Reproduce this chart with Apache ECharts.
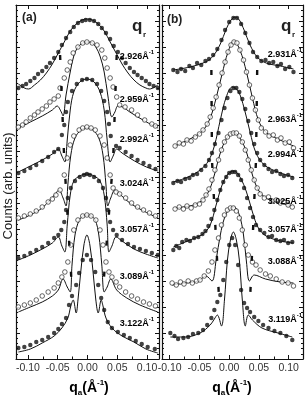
<!DOCTYPE html>
<html><head><meta charset="utf-8">
<script src="https://cdn.jsdelivr.net/npm/echarts@6/dist/echarts.min.js"></script>
<style>html,body{margin:0;padding:0;background:#fff}#c{width:305px;height:397px}</style>
</head><body><div id="c"></div>
<script>
// ---------- data (x in Å^-1, y in arb. units of log counts with offsets) ----------
const xTicks = [-0.10, -0.05, 0.00, 0.05, 0.10];
const xMinorTicks = [-0.075, -0.025, 0.025, 0.075];
const labelsA = ['2.926', '2.959', '2.992', '3.024', '3.057', '3.089', '3.122'];
const labelsB = ['2.931', '2.963', '2.994', '3.025', '3.057', '3.088', '3.119'];

// panel (a)
const a1Dots = [[-0.116,271],[-0.109,273],[-0.103,275],[-0.096,278],[-0.089,281],[-0.083,285],[-0.076,288],[-0.069,292],[-0.063,296],[-0.056,301],[-0.049,307],[-0.043,314],[-0.036,321],[-0.029,327],[-0.023,332],[-0.016,336],[-0.009,338],[-0.003,339],[0.004,339],[0.011,338],[0.018,335],[0.024,331],[0.031,326],[0.038,320],[0.044,313],[0.051,307],[0.058,301],[0.064,296],[0.071,291],[0.078,287],[0.084,284],[0.091,281],[0.098,278],[0.104,275],[0.111,273],[0.118,271]];
const a1Fit = [[-0.116,275],[-0.106,271],[-0.099,270],[-0.089,274],[-0.079,279],[-0.069,286],[-0.059,295],[-0.049,306],[-0.039,317],[-0.029,328],[-0.019,335],[-0.009,339],[-0.001,340],[0.008,339],[0.018,335],[0.028,328],[0.038,317],[0.048,306],[0.058,295],[0.068,286],[0.078,279],[0.088,274],[0.098,271],[0.104,270],[0.118,274]];
const a2Dots = [[-0.116,232],[-0.109,234],[-0.103,237],[-0.096,241],[-0.089,244],[-0.083,247],[-0.076,250],[-0.069,253],[-0.063,257],[-0.056,260],[-0.049,263],[-0.046,271],[-0.039,281],[-0.034,289],[-0.029,297],[-0.024,306],[-0.016,312],[-0.008,316],[-0.001,317],[0.008,316],[0.016,314],[0.024,309],[0.029,301],[0.033,291],[0.038,281],[0.043,272],[0.049,262],[0.054,254],[0.063,252],[0.074,249],[0.084,244],[0.096,239],[0.108,235],[0.114,233]];
const a2Fit = [[-0.116,231],[-0.096,237],[-0.076,243],[-0.059,249],[-0.051,253],[-0.044,247],[-0.041,243],[-0.036,264],[-0.029,287],[-0.023,303],[-0.016,312],[-0.008,316],[-0.001,317],[0.008,316],[0.014,312],[0.021,303],[0.028,287],[0.034,264],[0.041,242],[0.046,247],[0.051,253],[0.059,252],[0.071,247],[0.096,238],[0.118,231]];
const a3Dots = [[-0.116,186],[-0.106,188],[-0.096,191],[-0.086,194],[-0.076,198],[-0.066,202],[-0.056,207],[-0.049,210],[-0.043,224],[-0.039,234],[-0.036,247],[-0.033,257],[-0.026,268],[-0.018,275],[-0.009,279],[-0.001,280],[0.008,279],[0.016,275],[0.023,268],[0.028,258],[0.033,247],[0.036,235],[0.039,223],[0.048,213],[0.054,211],[0.064,207],[0.074,203],[0.084,199],[0.094,196],[0.104,193],[0.114,190]];
const a3Fit = [[-0.116,187],[-0.096,193],[-0.076,199],[-0.059,205],[-0.049,210],[-0.043,203],[-0.038,197],[-0.034,219],[-0.029,249],[-0.023,267],[-0.013,277],[-0.001,280],[0.011,277],[0.021,267],[0.028,249],[0.033,219],[0.038,197],[0.043,203],[0.049,210],[0.058,206],[0.079,198],[0.099,192],[0.118,188]];
const a4Dots = [[-0.116,141],[-0.106,143],[-0.096,145],[-0.086,148],[-0.076,152],[-0.066,157],[-0.059,160],[-0.053,164],[-0.046,169],[-0.039,184],[-0.034,201],[-0.029,214],[-0.023,223],[-0.014,229],[-0.008,231],[-0.001,232],[0.006,231],[0.013,229],[0.021,223],[0.028,214],[0.033,201],[0.038,184],[0.043,171],[0.048,167],[0.054,165],[0.064,161],[0.074,156],[0.084,152],[0.094,149],[0.104,146],[0.114,143]];
const a4Fit = [[-0.116,139],[-0.096,144],[-0.076,151],[-0.063,159],[-0.054,165],[-0.048,169],[-0.041,161],[-0.036,153],[-0.033,174],[-0.028,204],[-0.021,221],[-0.011,229],[-0.001,231],[0.009,229],[0.019,221],[0.026,204],[0.031,174],[0.034,153],[0.039,161],[0.046,169],[0.054,165],[0.071,156],[0.091,149],[0.118,141]];
const a5Dots = [[-0.116,101],[-0.106,103],[-0.096,106],[-0.086,109],[-0.076,112],[-0.066,116],[-0.056,121],[-0.049,124],[-0.044,129],[-0.039,137],[-0.036,149],[-0.033,161],[-0.028,171],[-0.021,178],[-0.013,182],[-0.006,184],[-0.001,185],[0.004,184],[0.011,182],[0.019,178],[0.026,171],[0.031,161],[0.034,149],[0.038,137],[0.043,129],[0.049,124],[0.058,119],[0.068,115],[0.078,112],[0.088,110],[0.098,108],[0.108,106],[0.118,104]];
const a5Fit = [[-0.116,99],[-0.096,104],[-0.076,110],[-0.059,116],[-0.049,122],[-0.043,113],[-0.038,107],[-0.034,134],[-0.029,164],[-0.023,178],[-0.013,183],[-0.001,185],[0.011,183],[0.021,178],[0.028,164],[0.033,134],[0.036,107],[0.041,113],[0.048,122],[0.058,118],[0.078,110],[0.098,105],[0.118,101]];
const a6Dots = [[-0.116,52],[-0.106,54],[-0.096,56],[-0.086,59],[-0.076,63],[-0.066,67],[-0.056,71],[-0.049,76],[-0.043,82],[-0.038,87],[-0.033,97],[-0.028,114],[-0.023,129],[-0.016,139],[-0.008,143],[-0.001,144],[0.006,143],[0.014,139],[0.021,129],[0.026,114],[0.031,97],[0.036,87],[0.041,82],[0.048,77],[0.054,72],[0.064,67],[0.074,63],[0.084,60],[0.094,57],[0.104,55],[0.114,53]];
const a6Fit = [[-0.116,47],[-0.096,52],[-0.076,57],[-0.059,63],[-0.049,69],[-0.041,80],[-0.034,72],[-0.029,67],[-0.026,94],[-0.021,124],[-0.014,139],[-0.008,143],[-0.001,144],[0.006,143],[0.013,139],[0.019,124],[0.024,94],[0.028,67],[0.033,72],[0.039,80],[0.049,69],[0.066,61],[0.088,54],[0.118,47]];
const a7Dots = [[-0.116,11],[-0.106,12],[-0.096,14],[-0.086,17],[-0.076,19],[-0.066,22],[-0.056,26],[-0.049,30],[-0.043,35],[-0.036,41],[-0.031,54],[-0.026,63],[-0.019,74],[-0.014,86],[-0.008,99],[-0.001,104],[0.006,99],[0.013,87],[0.018,74],[0.023,61],[0.028,49],[0.034,37],[0.041,31],[0.051,27],[0.061,24],[0.071,21],[0.081,18],[0.091,15],[0.101,12],[0.113,10]];
const a7Fit = [[-0.116,7],[-0.096,10],[-0.076,16],[-0.056,23],[-0.043,31],[-0.033,41],[-0.028,53],[-0.024,59],[-0.019,46],[-0.016,59],[-0.011,89],[-0.006,114],[-0.001,124],[0.004,114],[0.009,89],[0.014,59],[0.018,46],[0.023,59],[0.026,53],[0.031,41],[0.041,31],[0.058,23],[0.078,17],[0.098,10],[0.118,6]];
const aDashL = [[-0.046,304],[-0.039,199],[-0.026,69]];
const aDashR = [[0.049,304],[0.043,199],[0.026,69]];

// panel (b)
const b1Dots = [[-0.094,289],[-0.087,287],[-0.081,290],[-0.074,288],[-0.067,293],[-0.061,291],[-0.054,296],[-0.047,294],[-0.040,298],[-0.034,300],[-0.027,304],[-0.020,310],[-0.013,319],[-0.007,329],[0.000,337],[0.007,341],[0.013,341],[0.020,335],[0.027,326],[0.034,316],[0.040,307],[0.047,302],[0.054,298],[0.061,299],[0.067,296],[0.074,297],[0.081,293],[0.087,295],[0.094,290],[0.101,292],[0.108,287]];
const b1Fit = [[-0.094,289],[-0.066,292],[-0.040,297],[-0.027,303],[-0.015,315],[-0.005,330],[0.003,339],[0.010,342],[0.017,339],[0.025,329],[0.035,314],[0.047,302],[0.062,296],[0.086,293],[0.108,290]];
const b2Dots = [[-0.091,213],[-0.084,216],[-0.077,215],[-0.071,219],[-0.064,218],[-0.057,222],[-0.050,225],[-0.044,229],[-0.037,235],[-0.032,242],[-0.027,251],[-0.022,262],[-0.017,274],[-0.012,286],[-0.007,297],[-0.002,307],[0.003,314],[0.008,317],[0.013,316],[0.018,309],[0.024,299],[0.029,287],[0.034,274],[0.039,261],[0.044,249],[0.049,239],[0.054,231],[0.061,227],[0.067,223],[0.074,224],[0.081,219],[0.087,221],[0.094,216],[0.101,217],[0.108,211]];
const b2Fit = [[-0.091,213],[-0.066,220],[-0.045,228],[-0.032,241],[-0.022,261],[-0.012,285],[-0.002,307],[0.008,318],[0.018,309],[0.029,287],[0.039,261],[0.049,239],[0.061,227],[0.082,220],[0.108,213]];
const b3Dots = [[-0.094,176],[-0.087,178],[-0.081,177],[-0.074,180],[-0.067,181],[-0.061,184],[-0.054,185],[-0.047,189],[-0.040,193],[-0.034,199],[-0.029,206],[-0.024,215],[-0.018,226],[-0.013,239],[-0.008,251],[-0.003,261],[0.002,268],[0.007,271],[0.012,271],[0.017,267],[0.022,260],[0.027,250],[0.032,238],[0.037,226],[0.042,215],[0.047,206],[0.052,199],[0.059,194],[0.066,190],[0.072,187],[0.079,188],[0.086,185],[0.092,183],[0.099,184],[0.106,181]];
const b3Fit = [[-0.094,177],[-0.069,182],[-0.049,189],[-0.035,198],[-0.025,213],[-0.015,239],[-0.005,262],[0.005,272],[0.015,268],[0.025,251],[0.035,227],[0.045,206],[0.059,194],[0.082,187],[0.108,182]];
const b4Dots = [[-0.091,150],[-0.084,152],[-0.077,150],[-0.071,153],[-0.064,151],[-0.057,154],[-0.050,155],[-0.044,159],[-0.039,164],[-0.034,170],[-0.029,179],[-0.024,189],[-0.018,199],[-0.013,209],[-0.008,217],[-0.003,222],[0.002,225],[0.007,226],[0.012,226],[0.017,223],[0.022,217],[0.027,209],[0.032,199],[0.037,189],[0.042,179],[0.047,171],[0.052,165],[0.059,161],[0.066,162],[0.072,158],[0.079,159],[0.086,156],[0.092,157],[0.099,154],[0.106,152]];
const b4Fit = [[-0.091,151],[-0.066,153],[-0.049,157],[-0.035,167],[-0.025,184],[-0.015,206],[-0.005,220],[0.007,227],[0.018,221],[0.029,207],[0.039,184],[0.049,169],[0.062,161],[0.086,156],[0.108,153]];
const b5Dots = [[-0.094,109],[-0.089,113],[-0.084,111],[-0.079,117],[-0.072,119],[-0.066,118],[-0.059,121],[-0.052,122],[-0.045,125],[-0.040,128],[-0.035,133],[-0.030,140],[-0.025,149],[-0.020,159],[-0.015,169],[-0.010,177],[-0.005,182],[0.000,186],[0.005,187],[0.010,187],[0.015,184],[0.020,179],[0.025,171],[0.030,161],[0.035,151],[0.040,142],[0.045,134],[0.052,129],[0.059,126],[0.066,122],[0.072,123],[0.079,119],[0.086,118],[0.092,119],[0.099,116],[0.106,117]];
const b5Fit = [[-0.094,112],[-0.066,119],[-0.044,125],[-0.032,134],[-0.022,154],[-0.012,174],[-0.002,185],[0.008,188],[0.018,182],[0.029,167],[0.039,147],[0.049,131],[0.062,123],[0.086,118],[0.108,116]];
const b6Dots = [[-0.096,76],[-0.089,74],[-0.082,77],[-0.076,75],[-0.069,78],[-0.062,76],[-0.055,78],[-0.049,79],[-0.042,83],[-0.035,88],[-0.029,97],[-0.024,109],[-0.018,121],[-0.013,134],[-0.008,144],[-0.003,149],[0.002,151],[0.007,151],[0.012,148],[0.017,141],[0.022,129],[0.027,114],[0.032,104],[0.039,97],[0.045,94],[0.052,89],[0.061,85],[0.069,83],[0.079,80],[0.089,77],[0.099,76],[0.108,73]];
const b6Fit = [[-0.096,74],[-0.074,76],[-0.052,78],[-0.039,83],[-0.029,78],[-0.022,99],[-0.015,124],[-0.008,141],[0.000,150],[0.008,152],[0.017,144],[0.024,124],[0.029,97],[0.034,78],[0.042,84],[0.061,80],[0.086,77],[0.108,76]];
const b7Dots = [[-0.099,26],[-0.092,23],[-0.086,20],[-0.077,21],[-0.069,22],[-0.061,25],[-0.052,26],[-0.044,29],[-0.037,34],[-0.030,41],[-0.025,49],[-0.020,57],[-0.015,64],[-0.010,79],[-0.005,97],[0.000,114],[0.005,121],[0.010,114],[0.015,94],[0.020,69],[0.025,56],[0.030,51],[0.035,47],[0.042,42],[0.049,38],[0.057,34],[0.066,31],[0.076,28],[0.086,26],[0.096,23],[0.106,19]];
const b7Fit = [[-0.099,22],[-0.074,22],[-0.049,26],[-0.032,34],[-0.025,40],[-0.020,44],[-0.013,33],[-0.008,59],[-0.003,99],[0.002,119],[0.007,127],[0.012,119],[0.017,99],[0.022,59],[0.027,33],[0.032,44],[0.039,39],[0.055,31],[0.082,26],[0.106,22]];
const bDashL = [[-0.030,289],[-0.029,199],[-0.017,59]];
const bDashR = [[0.047,289],[0.045,199],[0.035,59]];

// ---------- chart ----------
const INK = '#111';
const FONT = 'Liberation Sans, Arial, sans-serif';
const chart = echarts.init(document.getElementById('c'), null, {renderer: 'canvas'});

const dotsA = [a1Dots, a2Dots, a3Dots, a4Dots, a5Dots, a6Dots, a7Dots];
const fitsA = [a1Fit, a2Fit, a3Fit, a4Fit, a5Fit, a6Fit, a7Fit];
const dotsB = [b1Dots, b2Dots, b3Dots, b4Dots, b5Dots, b6Dots, b7Dots];
const fitsB = [b1Fit, b2Fit, b3Fit, b4Fit, b5Fit, b6Fit, b7Fit];

function xAx(grid, pos, min, max, withLabels) {
  return {
    type: 'value', gridIndex: grid, position: pos, min: min, max: max,
    axisLine: {show: true, onZero: false, lineStyle: {color: INK, width: 1.2}},
    axisTick: {show: true, inside: true, length: 4, customValues: xTicks, lineStyle: {color: INK}},
    axisLabel: withLabels ? {show: true, customValues: xTicks, formatter: v => v.toFixed(2),
      fontSize: 10.5, color: '#333', fontFamily: FONT, margin: 4} : {show: false},
    splitLine: {show: false}
  };
}
function xMinor(grid, min, max) {
  return {
    type: 'value', gridIndex: grid, position: 'bottom', min: min, max: max,
    axisLine: {show: false},
    axisTick: {show: true, inside: true, length: 2.5, customValues: xMinorTicks, lineStyle: {color: INK}},
    axisLabel: {show: false}, splitLine: {show: false}
  };
}
function yAx(grid, pos) {
  return {
    type: 'value', gridIndex: grid, position: pos, min: 0, max: 354, interval: 26,
    axisLine: {show: true, onZero: false, lineStyle: {color: INK, width: 1.2}},
    axisTick: {show: true, inside: true, length: 4, lineStyle: {color: INK}},
    minorTick: {show: true, splitNumber: 5, length: 2, lineStyle: {color: INK}},
    axisLabel: {show: false}, splitLine: {show: false}
  };
}

const series = [];
function addPanel(dots, fits, xi, yi) {
  dots.forEach((d, i) => {
    const open = i % 2 === 1;
    series.push({
      type: 'line', data: fits[i], xAxisIndex: xi, yAxisIndex: yi,
      showSymbol: false, smooth: 0.35, lineStyle: {color: INK, width: 1}, z: 2, silent: true
    });
    series.push({
      type: 'scatter', data: d, xAxisIndex: xi, yAxisIndex: yi,
      symbol: 'circle', symbolSize: open ? 4.6 : 4.4,
      itemStyle: open ? {color: '#fff', borderColor: INK, borderWidth: 0.8} : {color: INK},
      z: 3, silent: true
    });
  });
}
addPanel(dotsA, fitsA, 0, 0);
addPanel(dotsB, fitsB, 2, 2);
[[aDashL, 0, 0], [aDashR, 0, 0], [bDashL, 2, 2], [bDashR, 2, 2]].forEach(([d, xi, yi]) => {
  series.push({type: 'line', data: d, xAxisIndex: xi, yAxisIndex: yi, showSymbol: false,
    lineStyle: {color: INK, width: 2.4, type: [5, 26]}, z: 4, silent: true});
});

// curve labels
const labelTopsA = [49, 92, 132, 176, 222, 269, 316];
const labelTopsB = [47, 112, 147, 194, 222, 254, 312];
const rich = {
  n: {fontSize: 9, fontWeight: 'bold', fontFamily: FONT, color: '#222', lineHeight: 12, verticalAlign: 'bottom'},
  p: {fontSize: 6, fontWeight: 'bold', fontFamily: FONT, color: '#222', lineHeight: 12, verticalAlign: 'top'}
};
const graphic = [];
labelsA.forEach((t, i) => graphic.push({type: 'text', right: 305 - 154, top: labelTopsA[i],
  style: {text: '{n|' + t + 'Å}{p|-1}', rich: rich}, z: 10}));
labelsB.forEach((t, i) => graphic.push({type: 'text', right: 305 - 302, top: labelTopsB[i],
  style: {text: '{n|' + t + 'Å}{p|-1}', rich: rich}, z: 10}));
// panel tags and q_r
[['(a)', 22, 12], ['(b)', 167, 14]].forEach(([t, l, tp]) => graphic.push({type: 'text', left: l, top: tp,
  style: {text: t, fontSize: 12, fontWeight: 'bold', fontFamily: FONT, fill: '#222'}, z: 10}));
[[132, 18], [281, 18]].forEach(([l, tp]) => {
  graphic.push({type: 'text', left: l, top: tp, style: {text: 'q', fontSize: 17, fontWeight: 'bold', fontFamily: FONT, fill: '#222'}, z: 10});
  graphic.push({type: 'text', left: l + 11, top: tp + 13, style: {text: 'r', fontSize: 8, fontWeight: 'bold', fontFamily: FONT, fill: '#222'}, z: 10});
});
// axis titles
const xr = {
  q: {fontSize: 14, fontWeight: 'bold', fontFamily: FONT, color: '#222', lineHeight: 18, verticalAlign: 'middle'},
  s: {fontSize: 8, fontWeight: 'bold', fontFamily: FONT, color: '#222', lineHeight: 18, verticalAlign: 'bottom'},
  p: {fontSize: 8, fontWeight: 'bold', fontFamily: FONT, color: '#222', lineHeight: 18, verticalAlign: 'top'}
};
[89, 232].forEach(cx => graphic.push({type: 'text', x: cx, y: 388,
  style: {text: '{q|q}{s|a}{q|(Å}{p|-1}{q|)}', rich: xr, align: 'center', verticalAlign: 'middle'}, z: 10}));
graphic.push({type: 'text', x: 8, y: 186, rotation: Math.PI / 2,
  style: {text: 'Counts (arb. units)', fontSize: 13, fontFamily: FONT, fill: '#222', align: 'center', verticalAlign: 'middle'}, z: 10});

chart.setOption({
  animation: false,
  backgroundColor: '#fff',
  grid: [
    {left: 16, top: 5, width: 143, height: 354},
    {left: 162, top: 5, width: 141, height: 354}
  ],
  xAxis: [
    xAx(0, 'bottom', -0.12, 0.12, true),
    xAx(0, 'top', -0.12, 0.12, false),
    xAx(1, 'bottom', -0.113, 0.124, true),
    xAx(1, 'top', -0.113, 0.124, false),
    xMinor(0, -0.12, 0.12),
    xMinor(1, -0.113, 0.124)
  ],
  yAxis: [yAx(0, 'left'), yAx(0, 'right'), yAx(1, 'left'), yAx(1, 'right')],
  series: series,
  graphic: graphic
});
</script></body></html>
